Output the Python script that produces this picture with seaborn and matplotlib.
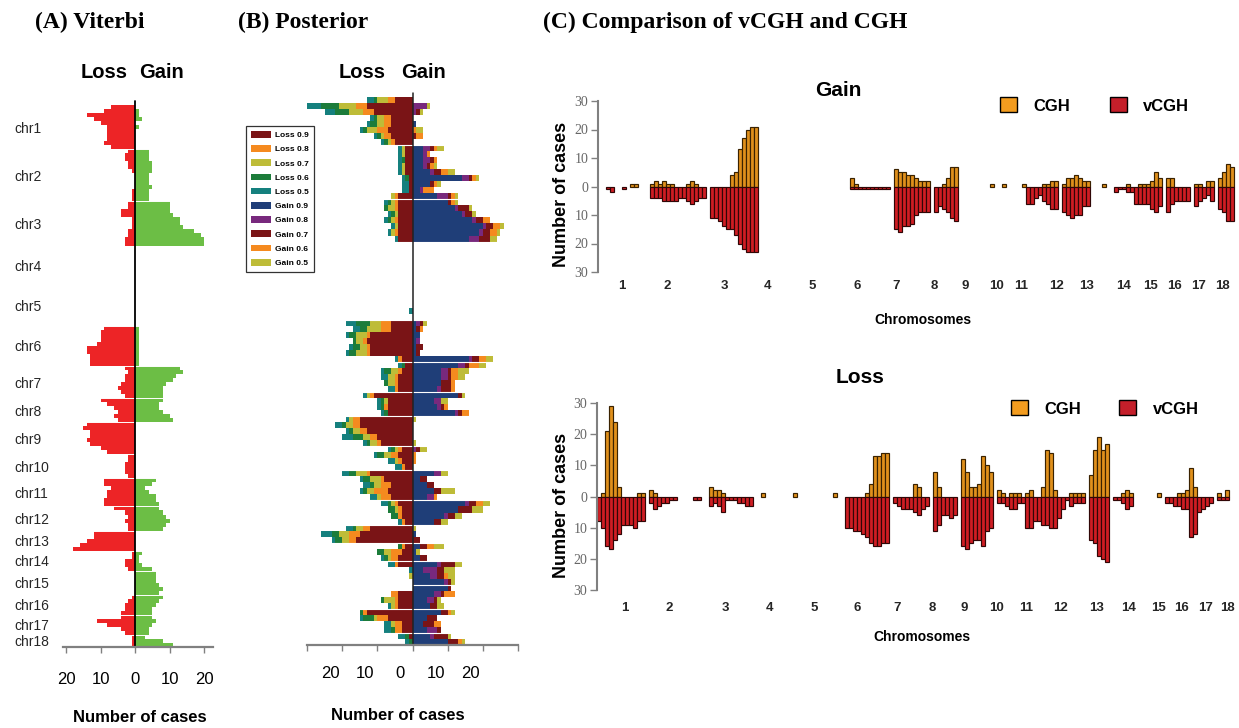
import numpy as np
import pandas as pd
import seaborn as sns
import matplotlib
matplotlib.use("Agg")
from matplotlib import pyplot as plt
from matplotlib.patches import Patch
from matplotlib.transforms import ScaledTranslation

W, H = 1239, 728

chrom_names = ["chr%d" % i for i in range(1, 19)]
chrom_nums = [str(i) for i in range(1, 19)]

# ---- (A) Viterbi: number of cases per genomic row, chr1 at top ----
rows_a = [11, 13, 11, 10, 10, 10, 8, 6, 8, 6, 7, 6, 5, 5, 6, 5, 5, 3]
loss_a = [7, 9, 14, 12, 10, 8, 8, 8, 8, 9, 7,
          2, 3, 3, 2, 2, 1, 0, 0, 0, 0, 1, 1, 1,
          2, 2, 4, 4, 1, 1, 1, 2, 2, 3, 3,
          0, 0, 0, 0, 0, 0, 0, 0, 0, 0,
          0, 0, 0, 0, 0, 0, 0, 0, 0, 0,
          9, 10, 10, 10, 11, 14, 14, 13, 13, 13,
          3, 2, 3, 3, 4, 5, 4, 3,
          10, 8, 6, 5, 6, 5,
          14, 15, 13, 13, 14, 13, 10, 8,
          2, 2, 3, 3, 3, 2,
          9, 9, 7, 8, 8, 9, 9,
          6, 3, 2, 3, 2, 2,
          12, 12, 14, 16, 18,
          1, 1, 3, 3, 2,
          0, 0, 0, 0, 0, 0,
          1, 2, 3, 3, 4,
          4, 11, 8, 4, 3,
          1, 1, 1]
gain_a = [0, 1, 1, 2, 0, 1, 0, 0, 0, 0, 0,
          4, 4, 4, 5, 5, 5, 4, 4, 4, 5, 4, 4, 4,
          10, 10, 10, 11, 13, 13, 14, 17, 19, 20, 20,
          0, 0, 0, 0, 0, 0, 0, 0, 0, 0,
          0, 0, 0, 0, 0, 0, 0, 0, 0, 0,
          1, 1, 1, 1, 1, 1, 1, 1, 1, 1,
          13, 14, 12, 11, 9, 8, 8, 8,
          8, 7, 7, 8, 10, 11,
          0, 0, 0, 0, 0, 0, 0, 0,
          0, 0, 0, 0, 0, 0,
          6, 5, 3, 4, 6, 6, 7,
          7, 8, 9, 10, 9, 8,
          0, 0, 0, 0, 0,
          2, 1, 1, 2, 5,
          6, 6, 6, 7, 8, 7,
          8, 7, 6, 5, 5,
          5, 6, 5, 4, 4,
          3, 8, 11]

# ---- (B) Posterior: stacked layers per row ----
rows_b = [8, 9, 7, 7, 6, 7, 5, 4, 5, 4, 5, 4, 3, 3, 4, 4, 4, 2]
loss_b09 = [5, 13, 11, 6, 6, 7, 6, 5,  2, 2, 2, 2, 2, 1, 1, 1, 4,  4, 4, 4, 4, 4, 4, 4,
            0, 0, 0, 0, 0, 0, 0,  0, 0, 0, 0, 0, 0,  6, 6, 12, 13, 12, 12, 3,  2, 3, 4, 4, 4,
            11, 7, 7, 7,  15, 15, 13, 10, 9,  3, 4, 3, 2,  12, 8, 6, 7, 6,  4, 3, 3, 2,
            12, 15, 16,  2, 3, 4,  4, 0, 0, 0,  0, 4, 4, 4,  13, 7, 3, 3,  1, 0]
loss_b08 = [2, 3, 3, 2, 2, 3, 2, 1,  0, 0, 0, 0, 0, 0, 0, 0, 1,  1, 1, 0, 1, 0, 1, 0,
            0, 0, 0, 0, 0, 0, 0,  0, 0, 0, 0, 0, 0,  3, 3, 1, 1, 1, 1, 1,  0, 1, 1, 1, 1,
            1, 0, 1, 0,  2, 2, 2, 2, 1,  1, 2, 1, 1,  1, 1, 3, 4, 3,  1, 1, 1, 1,
            2, 3, 2,  1, 3, 2,  1, 0, 0, 0,  0, 2, 1, 1,  1, 3, 2, 2,  0, 0]
loss_b07 = [3, 5, 4, 2, 2, 3, 1, 1,  1, 1, 0, 1, 1, 0, 0, 0, 1,  1, 2, 1, 1, 1, 1, 0,
            0, 0, 0, 0, 0, 0, 0,  0, 0, 0, 0, 0, 0,  3, 4, 3, 2, 2, 3, 0,  0, 2, 2, 2, 0,
            1, 1, 0, 0,  1, 2, 2, 2, 2,  1, 2, 1, 0,  3, 3, 2, 2, 1,  1, 1, 0, 0,
            2, 3, 2,  0, 2, 1,  0, 0, 1, 0,  0, 0, 3, 1,  0, 1, 1, 0,  0, 0]
loss_b06 = [1, 5, 4, 1, 2, 1, 1, 1,  0, 0, 1, 0, 0, 1, 0, 0, 0,  1, 1, 1, 1, 0, 0, 0,
            0, 0, 0, 0, 0, 0, 0,  0, 0, 0, 0, 0, 0,  4, 2, 2, 1, 2, 2, 0,  1, 2, 0, 1, 0,
            0, 1, 1, 1,  0, 1, 1, 3, 1,  1, 2, 0, 0,  2, 2, 1, 1, 0,  1, 2, 2, 0,
            1, 2, 2,  1, 2, 1,  0, 0, 0, 0,  0, 0, 1, 0,  1, 3, 0, 1,  1, 1]
loss_b05 = [2, 4, 3, 1, 1, 1, 1, 1,  1, 1, 1, 1, 1, 1, 2, 2, 0,  1, 0, 1, 1, 1, 1, 1,
            0, 0, 0, 0, 0, 0, 0,  0, 0, 0, 0, 1, 0,  3, 2, 1, 0, 1, 1, 1,  1, 1, 2, 0, 2,
            1, 1, 1, 1,  1, 2, 1, 3, 1,  1, 1, 2, 2,  2, 1, 2, 1, 2,  2, 0, 0, 1,
            2, 3, 1,  0, 0, 1,  2, 1, 0, 0,  0, 0, 0, 1,  0, 1, 2, 2,  2, 1]
gain_b09 = [0, 0, 0, 0, 1, 0, 0, 0,  3, 3, 3, 3, 5, 14, 5, 2, 7,  10, 12, 14, 17, 20, 19, 16,
            0, 0, 0, 0, 0, 0, 0,  0, 0, 0, 0, 0, 0,  1, 1, 2, 1, 1, 1, 16,  13, 8, 8, 8, 7,
            13, 6, 7, 12,  0, 0, 0, 0, 0,  0, 0, 0, 0,  6, 2, 4, 6, 4,  15, 13, 9, 6,
            0, 1, 0,  2, 1, 2,  7, 3, 5, 9,  10, 6, 4, 5,  8, 4, 3, 4,  5, 10]
gain_b08 = [0, 4, 1, 0, 0, 0, 0, 0,  2, 1, 2, 1, 1, 2, 0, 1, 3,  0, 1, 1, 1, 1, 1, 3,
            0, 0, 0, 0, 0, 0, 0,  0, 0, 0, 0, 0, 0,  1, 0, 0, 1, 0, 0, 1,  2, 2, 2, 0, 1,
            0, 2, 1, 1,  0, 0, 0, 0, 0,  1, 0, 0, 0,  2, 0, 0, 0, 2,  1, 0, 1, 0,
            0, 0, 0,  0, 0, 0,  1, 4, 2, 1,  0, 2, 2, 0,  0, 0, 0, 3,  1, 0]
gain_b07 = [0, 0, 1, 0, 0, 0, 1, 0,  1, 0, 1, 1, 2, 1, 1, 0, 1,  1, 3, 2, 2, 2, 2, 3,
            0, 0, 0, 0, 0, 0, 0,  0, 0, 0, 0, 0, 0,  1, 1, 0, 0, 2, 1, 2,  1, 1, 1, 3, 3,
            1, 0, 1, 1,  0, 0, 0, 0, 0,  1, 0, 0, 0,  0, 2, 2, 2, 0,  2, 4, 2, 2,
            0, 0, 2,  2, 0, 2,  4, 2, 2, 1,  1, 1, 1, 2,  2, 3, 3, 1,  4, 3]
gain_b06 = [0, 0, 0, 0, 0, 1, 2, 0,  1, 1, 1, 1, 2, 1, 1, 3, 1,  1, 0, 0, 2, 2, 2, 0,
            0, 0, 0, 0, 0, 0, 0,  0, 0, 0, 0, 0, 0,  0, 1, 0, 0, 0, 0, 2,  3, 2, 2, 1, 1,
            0, 0, 1, 2,  0, 0, 0, 0, 0,  0, 1, 1, 0,  0, 0, 0, 0, 1,  2, 0, 0, 0,
            0, 0, 0,  2, 0, 0,  0, 0, 1, 0,  0, 3, 0, 0,  1, 0, 2, 0,  0, 1]
gain_b05 = [0, 1, 1, 0, 0, 2, 0, 0,  2, 0, 0, 1, 2, 1, 1, 0, 1,  1, 1, 1, 0, 1, 1, 2,
            0, 0, 0, 0, 0, 0, 0,  0, 0, 0, 0, 0, 0,  1, 0, 0, 0, 0, 0, 2,  2, 3, 2, 0, 0,
            1, 2, 0, 0,  1, 0, 0, 0, 1,  2, 0, 0, 0,  2, 0, 0, 4, 0,  2, 3, 2, 2,
            1, 0, 0,  3, 1, 0,  2, 3, 2, 1,  0, 0, 1, 2,  1, 0, 0, 0,  1, 1]
layer_labels = ["Loss 0.9", "Loss 0.8", "Loss 0.7", "Loss 0.6", "Loss 0.5",
                "Gain 0.9", "Gain 0.8", "Gain 0.7", "Gain 0.6", "Gain 0.5"]
layer_colors = ["#7A1416", "#F58A1F", "#BEBC38", "#1C7C3A", "#15807E",
                "#1F3E78", "#78297D", "#7A1416", "#F58A1F", "#BEBC38"]

# ---- (C) CGH vs vCGH, one value per genome bin ----
cgh_gain = [0, 0, 0, 0, 0, 0, 0, 0, 1, 1, 0, 0, 0, 1, 2, 1, 2, 1, 1, 0,
            0, 0, 1, 2, 1, 0, 0, 0, 0, 0, 0, 0, 0, 4, 5, 13, 17, 20, 21, 21,
            0, 0, 0, 0, 0, 0, 0, 0, 0, 0, 0, 0, 0, 0, 0, 0, 0, 0, 0, 0,
            0, 0, 0, 3, 1, 0, 0, 0, 0, 0, 0, 0, 0, 0, 6, 5, 5, 4, 4, 3,
            2, 2, 2, 0, 0, 0, 1, 3, 7, 7, 0, 0, 0, 0, 0, 0, 0, 0, 1, 0,
            0, 1, 0, 0, 0, 0, 1, 0, 0, 0, 0, 1, 1, 2, 2, 0, 1, 3, 3, 4,
            3, 2, 2, 0, 0, 0, 1, 0, 0, 0, 0, 0, 1, 0, 0, 1, 1, 1, 2, 5,
            3, 0, 3, 3, 0, 0, 0, 0, 0, 1, 1, 0, 2, 2, 0, 3, 5, 8, 7, 0]
vcgh_gain = [0, 0, 1, 2, 0, 0, 1, 0, 0, 0, 0, 0, 0, 4, 4, 4, 5, 5, 5, 5,
             4, 4, 5, 6, 5, 4, 4, 0, 11, 11, 12, 14, 15, 15, 17, 20, 22, 23, 23, 23,
             0, 0, 0, 0, 0, 0, 0, 0, 0, 0, 0, 0, 0, 0, 0, 0, 0, 0, 0, 0,
             0, 0, 0, 1, 1, 1, 1, 1, 1, 1, 1, 1, 1, 0, 15, 16, 14, 14, 13, 10,
             9, 9, 9, 0, 9, 7, 8, 9, 11, 12, 0, 0, 0, 0, 0, 0, 0, 0, 0, 0,
             0, 0, 0, 0, 0, 0, 0, 6, 6, 4, 3, 5, 6, 8, 8, 0, 9, 10, 11, 10,
             10, 7, 7, 0, 0, 0, 0, 0, 0, 2, 1, 1, 2, 2, 6, 6, 6, 6, 8, 9,
             7, 0, 9, 6, 5, 5, 5, 5, 0, 7, 5, 4, 3, 5, 0, 8, 9, 12, 12, 0]
cgh_loss = [0, 1, 21, 29, 24, 3, 0, 0, 0, 0, 1, 1, 0, 2, 1, 0, 0, 0, 0, 0,
            0, 0, 0, 0, 0, 0, 0, 0, 3, 2, 2, 1, 0, 0, 0, 0, 0, 0, 0, 0,
            0, 1, 0, 0, 0, 0, 0, 0, 0, 1, 0, 0, 0, 0, 0, 0, 0, 0, 0, 1,
            0, 0, 0, 0, 0, 0, 0, 1, 4, 13, 13, 14, 14, 0, 0, 0, 0, 0, 0, 4,
            3, 0, 0, 0, 8, 3, 0, 0, 0, 0, 0, 12, 8, 3, 3, 4, 13, 10, 8, 0,
            2, 1, 0, 1, 1, 1, 0, 1, 2, 0, 0, 3, 15, 14, 2, 0, 0, 0, 1, 1,
            1, 1, 0, 7, 15, 19, 15, 17, 0, 0, 0, 1, 2, 1, 0, 0, 0, 0, 0, 0,
            1, 0, 0, 0, 0, 1, 1, 2, 9, 3, 0, 0, 0, 0, 0, 1, 0, 2, 0, 0]
vcgh_loss = [8, 10, 16, 17, 14, 12, 9, 9, 9, 10, 8, 8, 0, 2, 4, 3, 2, 2, 1, 1,
             0, 0, 0, 0, 1, 1, 0, 0, 3, 2, 3, 5, 1, 1, 1, 2, 2, 3, 3, 0,
             0, 0, 0, 0, 0, 0, 0, 0, 0, 0, 0, 0, 0, 0, 0, 0, 0, 0, 0, 0,
             0, 0, 10, 10, 11, 11, 12, 13, 15, 16, 16, 15, 15, 0, 2, 3, 4, 4, 4, 5,
             6, 4, 3, 0, 11, 9, 6, 6, 7, 6, 0, 16, 17, 15, 14, 14, 16, 11, 10, 0,
             2, 2, 3, 4, 4, 2, 2, 10, 10, 8, 8, 9, 9, 10, 10, 7, 4, 1, 3, 2,
             2, 2, 0, 14, 15, 19, 20, 21, 0, 1, 1, 2, 4, 3, 0, 0, 0, 0, 0, 0,
             0, 0, 2, 2, 3, 3, 4, 4, 13, 12, 5, 4, 3, 2, 0, 1, 1, 1, 0, 0]
# where the chromosome numbers sit along the bin axis
ticks_gain = [6, 17.2, 31.5, 42.5, 53.5, 64.8, 74.5, 84, 91.8, 99.5, 105.8,
              114.5, 122.2, 131.5, 138, 144, 150.2, 156]
ticks_loss = [7, 18, 32.2, 43.2, 54.2, 65, 75, 83.8, 91.8, 100, 107.2,
              116, 125, 133, 140.5, 146.2, 152.2, 157.5]

sns.set_theme(style="white")
plt.rcParams["font.family"] = ["Liberation Sans", "DejaVu Sans"]
plt.rcParams["text.color"] = "black"

fig = plt.figure(figsize=(W / 100, H / 100), dpi=100)


def box(x0, y0, x1, y1):
    return [x0 / W, 1 - y1 / H, (x1 - x0) / W, (y1 - y0) / H]


def style_count_axis(ax, pad):
    sns.despine(ax=ax, left=True)
    ax.spines["bottom"].set_color("#808080")
    ax.spines["bottom"].set_linewidth(1.6)
    ax.tick_params(axis="x", bottom=True, length=4, width=1, color="#808080",
                   labelsize=12, labelcolor="black", pad=pad)


# ---------------- (A) ----------------
ax_a = fig.add_axes(box(63, 105, 213, 647))
n_a = sum(rows_a)
y_a = np.arange(n_a) + 0.5
ax_a.barh(y_a, -np.array(loss_a), height=1.0, color="#ED2426", linewidth=0)
ax_a.barh(y_a, gain_a, height=1.0, color="#6CBE45", linewidth=0)
ends_a = np.cumsum(rows_a)
for e in ends_a[:-1]:
    ax_a.axhline(e, color="white", lw=0.7)
ax_a.axvline(0, ymax=1.008, color="black", lw=1.3, clip_on=False)
ax_a.set_ylim(n_a, 0)
ax_a.set_xlim(-20.9, 22.6)
ax_a.set_yticks(ends_a - np.array(rows_a) / 2)
ax_a.set_yticklabels(chrom_names)
ax_a.tick_params(axis="y", left=False, length=0, pad=35, labelsize=10)
for t in ax_a.get_yticklabels():
    t.set_ha("left")
ax_a.set_xticks([-20, -10, 0, 10, 20])
ax_a.set_xticklabels(["20", "10", "0", "10", "20"])
style_count_axis(ax_a, 14)

# ---------------- (B) ----------------
ax_b = fig.add_axes(box(307, 97, 518, 645))
n_b = sum(rows_b)
y_b = np.arange(n_b) + 0.5
loss_layers = [loss_b09, loss_b08, loss_b07, loss_b06, loss_b05]
gain_layers = [gain_b09, gain_b08, gain_b07, gain_b06, gain_b05]
base = np.zeros(n_b)
for vals, col in zip(loss_layers, layer_colors[:5]):
    v = np.array(vals)
    ax_b.barh(y_b, -v, left=-base, height=1.0, color=col, linewidth=0)
    base += v
base = np.zeros(n_b)
for vals, col in zip(gain_layers, layer_colors[5:]):
    v = np.array(vals)
    ax_b.barh(y_b, v, left=base, height=1.0, color=col, linewidth=0)
    base += v
ends_b = np.cumsum(rows_b)
for e in ends_b[:-1]:
    ax_b.axhline(e, color="white", lw=0.8)
ax_b.axvline(0, ymax=1.008, color="#222222", lw=1.1, clip_on=False)
ax_b.set_ylim(n_b, 0)
ax_b.set_xlim(-30, 30)
ax_b.set_yticks([])
ax_b.set_xticks([-30, -20, -10, 0, 10, 20, 30])
ax_b.set_xticklabels(["", "20", "10", "0", "10", "20", ""])
style_count_axis(ax_b, 11)
shift = ScaledTranslation(-12 / 100, 0, fig.dpi_scale_trans)
for t in ax_b.get_xticklabels():
    t.set_transform(t.get_transform() + shift)

handles = [Patch(facecolor=c, edgecolor="none", label=l)
           for l, c in zip(layer_labels, layer_colors)]
leg = ax_b.legend(handles=handles, loc="upper left",
                  bbox_to_anchor=(246 / W, 1 - 126 / H), bbox_transform=fig.transFigure,
                  frameon=True, fancybox=False, edgecolor="black", borderaxespad=0,
                  prop={"size": 6, "weight": "bold"}, handlelength=2.4,
                  handleheight=0.85, labelspacing=0.72, borderpad=0.6, handletextpad=0.45)
leg.get_frame().set_linewidth(0.9)

# ---------------- (C) ----------------
orange, red = "#E0901C", "#CF1D23"


def comparison(ax, cgh, vcgh, ticks, xpad):
    df = pd.DataFrame({"pos": np.arange(len(cgh)) + 0.5, "cgh": cgh, "vcgh": vcgh})
    df["down"] = -df["vcgh"]
    sns.barplot(data=df[df.cgh > 0], x="pos", y="cgh", orient="x", native_scale=True,
                width=1, color=orange, saturation=1, edgecolor="#3a2200",
                linewidth=0.85, errorbar=None, ax=ax)
    sns.barplot(data=df[df.vcgh > 0], x="pos", y="down", orient="x", native_scale=True,
                width=1, color=red, saturation=1, edgecolor="#300606",
                linewidth=0.85, errorbar=None, ax=ax)
    ax.set_xlim(0, len(cgh))
    ax.set_ylim(-30, 30)
    ax.set_xlabel("")
    ax.set_ylabel("")
    ax.set_yticks(range(-30, 31, 10))
    ax.set_yticklabels([str(abs(v)) for v in range(-30, 31, 10)])
    ax.tick_params(axis="y", left=True, length=5, width=1, color="#808080",
                   labelsize=10, labelcolor="#666666", pad=2)
    for t in ax.get_yticklabels():
        t.set_fontfamily("Liberation Serif")
    ax.set_xticks(ticks)
    ax.set_xticklabels(chrom_nums, fontweight="bold", fontsize=9.5)
    ax.tick_params(axis="x", bottom=False, length=0, pad=xpad)
    sns.despine(ax=ax, bottom=True)
    ax.spines["left"].set_color("#808080")
    ax.spines["left"].set_linewidth(1.5)


def legend_c(ax, x, y, textpad, colspace):
    hs = [Patch(facecolor="#F39C1F", edgecolor="black", linewidth=1, label="CGH"),
          Patch(facecolor="#C41F2A", edgecolor="black", linewidth=1, label="vCGH")]
    ax.legend(handles=hs, ncol=2, loc="center left", bbox_to_anchor=(x / W, 1 - y / H),
              bbox_transform=fig.transFigure, frameon=False, borderpad=0, borderaxespad=0,
              prop={"size": 12, "weight": "bold"}, handlelength=1.0, handleheight=1.0,
              handletextpad=textpad, columnspacing=colspace)


ax_g = fig.add_axes(box(598, 101, 1238, 272))
comparison(ax_g, cgh_gain, vcgh_gain, ticks_gain, 6)
legend_c(ax_g, 1000, 105.5, 1.0, 2.4)

ax_l = fig.add_axes(box(597, 403, 1237, 590))
comparison(ax_l, cgh_loss, vcgh_loss, ticks_loss, 8.5)
legend_c(ax_l, 1011, 408.5, 1.0, 2.3)

# ---------------- texts ----------------
serif = ["Liberation Serif", "DejaVu Serif"]
fig.text(35 / W, 1 - 22 / H, "(A) Viterbi", ha="left", va="center", family=serif,
         fontsize=17, fontweight="bold")
fig.text(238 / W, 1 - 22 / H, "(B) Posterior", ha="left", va="center", family=serif,
         fontsize=17, fontweight="bold")
fig.text(543 / W, 1 - 22 / H, "(C) Comparison of vCGH and CGH", ha="left", va="center",
         family=serif, fontsize=17, fontweight="bold")
for xl, xg in [(104, 162), (362, 424)]:
    fig.text(xl / W, 1 - 73 / H, "Loss", ha="center", va="center", fontsize=14.5, fontweight="bold")
    fig.text(xg / W, 1 - 73 / H, "Gain", ha="center", va="center", fontsize=14.5, fontweight="bold")
fig.text(140 / W, 1 - 718 / H, "Number of cases", ha="center", va="center", fontsize=12, fontweight="bold")
fig.text(398 / W, 1 - 715 / H, "Number of cases", ha="center", va="center", fontsize=12, fontweight="bold")
fig.text(838 / W, 1 - 91 / H, "Gain", ha="center", va="center", fontsize=15, fontweight="bold")
fig.text(860 / W, 1 - 377 / H, "Loss", ha="center", va="center", fontsize=15, fontweight="bold")
fig.text(562 / W, 1 - 194 / H, "Number of cases", rotation=90, ha="center", va="center",
         fontsize=13, fontweight="bold")
fig.text(562 / W, 1 - 505 / H, "Number of cases", rotation=90, ha="center", va="center",
         fontsize=13, fontweight="bold")
fig.text(923 / W, 1 - 320 / H, "Chromosomes", ha="center", va="center", fontsize=10, fontweight="bold")
fig.text(922 / W, 1 - 637 / H, "Chromosomes", ha="center", va="center", fontsize=10, fontweight="bold")

fig.savefig("out.png", dpi=100)
